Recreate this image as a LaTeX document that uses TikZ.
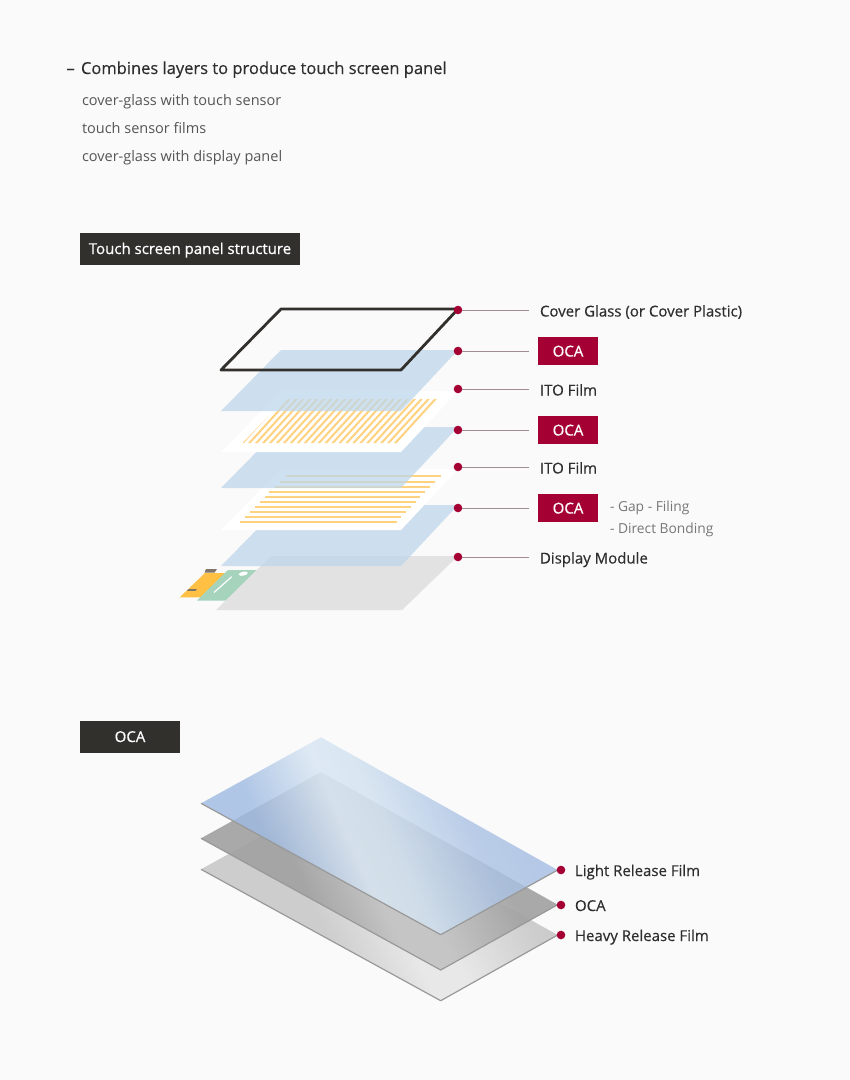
\documentclass[tikz,border=0pt]{standalone}
\usepackage{fontspec}
\setmainfont{Open Sans}
\newfontfamily\medfont[FakeBold=0.35]{Open Sans}
\newfontfamily\boxfont[FakeBold=0.7]{Open Sans}
\definecolor{bgc}{HTML}{FAFAFA}
\definecolor{lgred}{HTML}{A50034}
\definecolor{dark}{HTML}{32302D}
\definecolor{txt}{HTML}{2E2E2E}
\definecolor{subt}{HTML}{555555}
\definecolor{notec}{HTML}{777777}
\definecolor{leader}{HTML}{A08D93}
\definecolor{ocablue}{HTML}{BED7EB}
\definecolor{stripe}{HTML}{FFD27F}
\definecolor{dispg}{HTML}{E2E2E2}
\definecolor{flexo}{HTML}{FFC044}
\definecolor{flexg}{HTML}{A5D3BC}
\definecolor{tabc}{HTML}{7F756A}
\definecolor{ba}{HTML}{A0BBE2}
\definecolor{bb}{HTML}{D8E6F3}
\definecolor{bc}{HTML}{D3E3F1}
\definecolor{bd}{HTML}{ACC3E4}
\definecolor{be}{HTML}{9DB8E1}
\definecolor{ma}{HTML}{A1A1A1}
\definecolor{mb}{HTML}{C2C2C2}
\definecolor{mc}{HTML}{A0A0A0}
\definecolor{la}{HTML}{CDCDCD}
\definecolor{lb}{HTML}{E8E8E8}
\definecolor{lc}{HTML}{C8C8C8}
\definecolor{edgec}{HTML}{999999}
\pgfdeclarehorizontalshading{bluefilm}{1000bp}{color(0bp)=(ba);color(95bp)=(ba);color(170bp)=(bb);color(205bp)=(bc);color(285bp)=(bd);color(400bp)=(be)}
\pgfdeclarehorizontalshading{midfilm}{1000bp}{color(0bp)=(ma);color(110bp)=(ma);color(175bp)=(mb);color(215bp)=(mb);color(295bp)=(ma);color(400bp)=(mc)}
\pgfdeclarehorizontalshading{lowfilm}{1000bp}{color(0bp)=(la);color(110bp)=(la);color(185bp)=(lb);color(220bp)=(lb);color(300bp)=(la);color(400bp)=(lc)}
\tikzset{
  x=1pt,y=-1pt,
  every node/.style={inner sep=0pt,outer sep=0pt},
  heading/.style={anchor=base west,text=txt,font=\fontsize{16.5}{20}\selectfont\medfont},
  subline/.style={anchor=base west,text=subt,font=\fontsize{14.5}{18}\selectfont},
  darkbox/.style={fill=dark,minimum height=32pt,anchor=north west},
  redbox/.style={fill=lgred,minimum width=60pt,minimum height=28pt,anchor=north west},
  boxtext/.style={anchor=base,text=white,font=\fontsize{15}{18}\selectfont\boxfont},
  lab/.style={anchor=base west,text=txt,font=\fontsize{15}{18}\selectfont\medfont},
  note/.style={anchor=base west,text=notec,font=\fontsize{13.8}{18}\selectfont},
  pin/.style={circle,fill=lgred,minimum size=8.6pt},
  leadline/.style={draw=leader,line width=0.9pt},
  ocasheet/.style={fill=ocablue,fill opacity=0.75},
  filmsheet/.style={fill=white},
  stripeline/.style={draw=stripe,line width=2pt},
  hatchline/.style={draw=stripe,line width=2pt},
  edgeline/.style={draw=edgec,line width=1.2pt,line join=round},
}
\begin{document}
\begin{tikzpicture}
\useasboundingbox (0,0) rectangle (850,1080);
\fill[bgc] (0,0) rectangle (850,1080);
% header
\node[heading] (dash) at (66.5,74) {–};
\node[heading] (head) at (81,74) {Combines layers to produce touch screen panel};
\node[subline] (s1) at (82,105) {cover-glass with touch sensor};
\node[subline] (s2) at (82,133) {touch sensor films};
\node[subline] (s3) at (82,161) {cover-glass with display panel};
\node[darkbox,minimum width=220pt] (h1) at (80,233) {};
\node[boxtext] (h1t) at (190,254) {Touch screen panel structure};
\node[darkbox,minimum width=100pt] (h2) at (80,721) {};
\node[boxtext] (h2t) at (130,742) {OCA};
% flex parts
\fill[tabc] (206,569) -- (217,569) -- (214.5,572.6) -- (204.5,572.6) -- cycle;
\fill[flexo] (179.7,597.3) -- (205,573) -- (226,573) -- (202,597.3) -- cycle;
\fill[tabc] (188.5,589) -- (197,589) -- (195.5,590.8) -- (187,590.8) -- cycle;
\fill[flexg] (197,600.5) -- (228,570) -- (257,570) -- (226,600.5) -- cycle;
\draw[white,line width=1.2pt] (214,592.5) -- (231.7,576.7);
\fill[white,rotate around={12:(243.3,573.7)}] (243.3,573.7) ellipse [x radius=4.6,y radius=2];
% display
\fill[dispg] (271,556) -- (458,556) -- (402,610) -- (216,610) -- cycle;
% OCA 3
\path[ocasheet] (281,505) -- (458,505) -- (401,566) -- (221,566) -- cycle;
% film 2
\path[filmsheet] (281,469) -- (458,469) -- (401,530) -- (221,530) -- cycle;
\foreach \yy/\xa/\xb in {475.7/285.7/441,481.9/280/435,487/275/430,492/269/425,497/264.5/420.3,502/259.7/415.7,507/254.7/410.7,512/250/406,517/245/401.3,522/239.7/396.7}
  \draw[stripeline] (\xa,\yy) -- (\xb,\yy);
% OCA 2
\path[ocasheet] (281,427) -- (458,427) -- (401,488) -- (221,488) -- cycle;
% film 1
\path[filmsheet] (281,391) -- (458,391) -- (401,452) -- (221,452) -- cycle;
\begin{scope}
\clip (285,399) -- (440,399) -- (400,443) -- (242.5,443) -- cycle;
\foreach \i in {0,...,31}
  \draw[hatchline] ({242+\i*6.95},443.5) -- ({242+\i*6.95+41},398.5);
\end{scope}
% OCA 1
\path[ocasheet] (281,350) -- (458,350) -- (401,411) -- (221,411) -- cycle;
% cover glass
\draw[draw=dark,line width=2.8pt,line join=round] (281,309) -- (458,309) -- (401,370) -- (221,370) -- cycle;
% pins and leaders
\foreach \n/\yy in {a/310,b/351,c/389,d/430,e/467,f/508,g/557} {
  \node[pin] (p\n) at (458,\yy) {};
  \coordinate (e\n) at (529,\yy);
  \draw[leadline] (p\n) -- (e\n);
}
\node[lab] (la) at (540,316.5) {Cover Glass (or Cover Plastic)};
\node[redbox] (lb) at (538,337) {};
\node[boxtext] (lbt) at (568,356.5) {OCA};
\node[lab] (lc) at (540,395.5) {ITO Film};
\node[redbox] (ld) at (538,416) {};
\node[boxtext] (ldt) at (568,435.5) {OCA};
\node[lab] (le) at (540,473.5) {ITO Film};
\node[redbox] (lf) at (538,494) {};
\node[boxtext] (lft) at (568,513.5) {OCA};
\node[lab] (lg) at (540,563.5) {Display Module};
\node[note] (n1) at (610,511.5) {- Gap - Filing};
\node[note] (n2) at (610,533.3) {- Direct Bonding};
% OCA films
\begin{scope}
\clip (321,803) -- (557.7,935) -- (440.7,1000.7) -- (201,869.3) -- cycle;
\node[rotate=24.2] at (308.6,676.7) {\pgfuseshading{lowfilm}};
\end{scope}
\draw[edgeline] (201,869.3) -- (440.7,1000.7) -- (557.7,935);
\begin{scope}
\clip (321,772) -- (557.7,904.7) -- (440.7,970) -- (201,838.3) -- cycle;
\node[rotate=24.2,opacity=0.9] at (308.6,676.7) {\pgfuseshading{midfilm}};
\end{scope}
\draw[edgeline] (201,838.3) -- (440.7,970) -- (557.7,904.7);
\begin{scope}
\clip (321,737.3) -- (557.7,870) -- (440.7,934.7) -- (201,803.3) -- cycle;
\node[rotate=24.2,opacity=0.82] at (308.6,676.7) {\pgfuseshading{bluefilm}};
\end{scope}
\draw[edgeline] (201,803.3) -- (440.7,934.7) -- (557.7,870);
\node[pin] (q1) at (561,870) {};
\node[pin] (q2) at (561,905) {};
\node[pin] (q3) at (561,935) {};
\node[lab] (r1) at (575,876) {Light Release Film};
\node[lab] (r2) at (575,911) {OCA};
\node[lab] (r3) at (575,941) {Heavy Release Film};
\end{tikzpicture}
\end{document}
